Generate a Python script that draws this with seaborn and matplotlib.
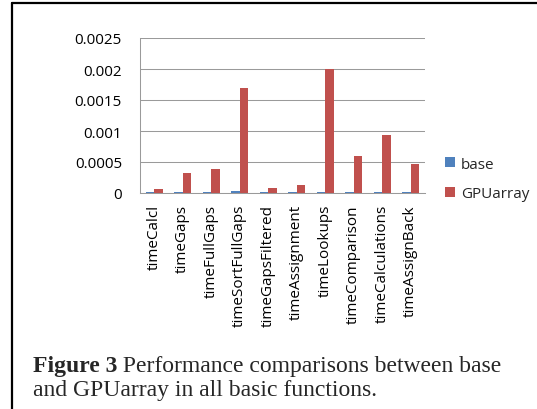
import matplotlib
matplotlib.use("Agg")
import matplotlib.pyplot as plt
import numpy as np
import pandas as pd
import seaborn as sns
from matplotlib.lines import Line2D

categories = ["timeCalcl", "timeGaps", "timeFullGaps", "timeSortFullGaps",
              "timeGapsFiltered", "timeAssignment", "timeLookups",
              "timeComparison", "timeCalculations", "timeAssignBack"]
base_values = [0.000012, 0.00002, 0.000012, 0.00003, 0.000012,
               0.000012, 0.000012, 0.000012, 0.000012, 0.000012]
gpuarray_values = [0.000065, 0.00032, 0.00039, 0.00169, 0.000085,
                   0.000134, 0.002, 0.0006, 0.000935, 0.00047]
series_names = ["base", "GPUarray"]
y_ticks = [0, 0.0005, 0.001, 0.0015, 0.002, 0.0025]
y_tick_labels = ["0", "0.0005", "0.001", "0.0015", "0.002", "0.0025"]
caption_bold = "Figure 3"
caption_line1 = " Performance comparisons between base"
caption_line2 = "and GPUarray in all basic functions."

df = pd.DataFrame({
    "category": categories * 2,
    "series": [series_names[0]] * len(categories) + [series_names[1]] * len(categories),
    "value": base_values + gpuarray_values,
})

sns.set_style("white")
plt.rcParams["font.family"] = ["Open Sans", "DejaVu Sans"]

W, H = 537, 410
fig = plt.figure(figsize=(W / 100, H / 100), dpi=100)
ax = fig.add_axes([140 / W, 1 - 194 / H, (425 - 140) / W, (194 - 39) / H])

palette = {"base": "#4F81BD", "GPUarray": "#C0504D"}
sns.barplot(data=df, x="category", y="value", hue="series", order=categories,
            hue_order=series_names, palette=palette, width=0.58, gap=0,
            saturation=1, linewidth=0, ax=ax)

grey = "#9a9a9a"
ax.set_ylim(0, 0.0025)
ax.set_xlim(-0.5, len(categories) - 0.5)
ax.set_yticks(y_ticks)
ax.set_yticklabels(y_tick_labels)
ax.yaxis.grid(True, color=grey, linewidth=0.75)
ax.set_axisbelow(True)
ax.set_xlabel("")
ax.set_ylabel("")
for s in ["top", "right"]:
    ax.spines[s].set_visible(False)
for s in ["left", "bottom"]:
    ax.spines[s].set_color(grey)
    ax.spines[s].set_linewidth(0.75)

ax.set_xticks(range(len(categories)))
ax.set_xticklabels(categories, rotation=90, va="top", ha="center")
ax.set_xticks(np.arange(-0.5, len(categories), 1.0), minor=True)
ax.tick_params(axis="x", which="major", length=0, pad=8, labelsize=11, colors="black")
ax.tick_params(axis="x", which="minor", length=4, width=0.75, color=grey, direction="out")
ax.tick_params(axis="y", length=5, width=0.75, color=grey, direction="out", pad=8,
               labelsize=11, labelcolor="black")

sns.move_legend(ax, "center left", bbox_to_anchor=(431 / W, 1 - 180 / H),
                bbox_transform=fig.transFigure, title=None, frameon=False,
                fontsize=11, handlelength=0.65, handleheight=0.65,
                handletextpad=0.4, labelspacing=0.95)

# figure border (top and left)
fig.add_artist(Line2D([12 / W, 1.0], [1 - 4 / H, 1 - 4 / H], transform=fig.transFigure,
                      color="black", linewidth=1.6))
fig.add_artist(Line2D([12 / W, 12 / W], [0.0, 1 - 4 / H], transform=fig.transFigure,
                      color="black", linewidth=1.6))

serif = ["Liberation Serif", "DejaVu Serif"]
t1 = fig.text(33 / W, 1 - 372 / H, caption_bold, fontsize=17, fontweight="bold",
              family=serif, va="baseline", ha="left")
fig.canvas.draw()
bb = t1.get_window_extent()
fig.text(bb.x1 / W, 1 - 372 / H, caption_line1, fontsize=17, family=serif,
         va="baseline", ha="left")
fig.text(33 / W, 1 - 396 / H, caption_line2, fontsize=17, family=serif,
         va="baseline", ha="left")

fig.savefig("out.png", dpi=100)
